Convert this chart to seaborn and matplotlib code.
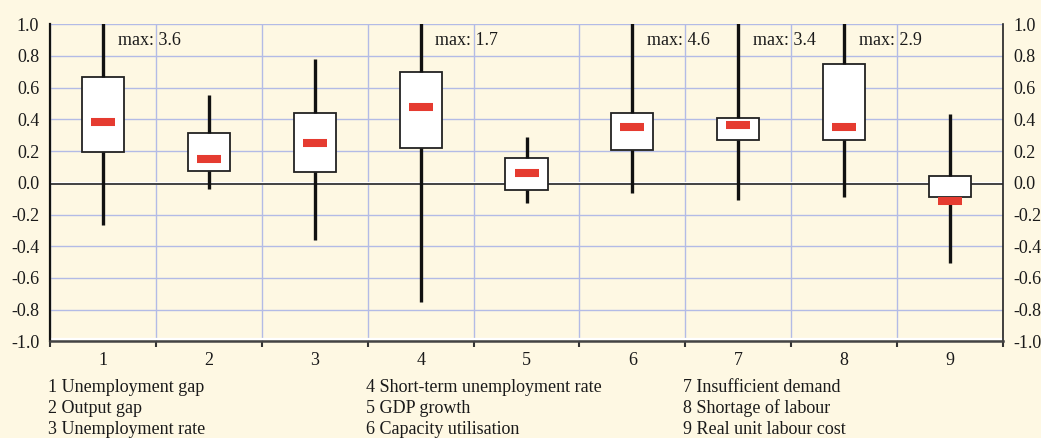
import numpy as np
import pandas as pd
import matplotlib
matplotlib.use("Agg")
import matplotlib.pyplot as plt
import matplotlib.transforms as mtransforms
from matplotlib.ticker import FixedLocator, FormatStrFormatter
import seaborn as sns

# ---- data ----
categories = ["1", "2", "3", "4", "5", "6", "7", "8", "9"]
whisker_low = [-0.266, -0.036, -0.360, -0.754, -0.129, -0.066, -0.111, -0.088, -0.508]
quartile_1 = [0.192, 0.073, 0.070, 0.218, -0.045, 0.205, 0.272, 0.272, -0.091]
median = [0.384, 0.152, 0.253, 0.480, 0.060, 0.352, 0.367, 0.354, -0.113]
quartile_3 = [0.669, 0.316, 0.441, 0.697, 0.155, 0.438, 0.411, 0.750, 0.045]
whisker_high = [3.6, 0.554, 0.782, 1.7, 0.287, 4.6, 3.4, 2.9, 0.434]
legend_labels = [
    "1 Unemployment gap", "2 Output gap", "3 Unemployment rate",
    "4 Short-term unemployment rate", "5 GDP growth", "6 Capacity utilisation",
    "7 Insufficient demand", "8 Shortage of labour", "9 Real unit labour cost",
]
y_ticks = np.round(np.linspace(-1.0, 1.0, 11), 1) + 0.0

# ---- style ----
BG = "#FEF8E3"
GRID = "#B3BBE6"
RED = "#E53B30"
sns.set_theme(style="white")
plt.rcParams["font.family"] = ["Liberation Serif", "DejaVu Serif"]
plt.rcParams["axes.unicode_minus"] = False
plt.rcParams["text.color"] = "#1a1a1a"

fig = plt.figure(figsize=(10.41, 4.38), dpi=100, facecolor=BG)
ax = fig.add_axes([50.3 / 1041, 1 - 341.3 / 438, (1002.7 - 50.3) / 1041, (341.3 - 24.3) / 438])
ax.set_facecolor(BG)

# long-format frame whose quartiles / extremes equal the read values
rows = []
for c, lo, q1, q3, hi in zip(categories, whisker_low, quartile_1, quartile_3, whisker_high):
    for v in (lo, q1, q1, q3, hi):
        rows.append({"cat": c, "val": v})
df = pd.DataFrame(rows)

sns.boxplot(
    data=df, x="cat", y="val", order=categories, ax=ax,
    color="white", saturation=1, linecolor="#222222", linewidth=1.3,
    width=0.4, whis=(0, 100), showcaps=False, showfliers=False,
    medianprops=dict(visible=False),
    whiskerprops=dict(color="#111111", linewidth=2.4, zorder=4),
    boxprops=dict(zorder=3),
)

# red median markers
sns.pointplot(
    x=categories, y=median, order=categories, ax=ax, linestyle="none",
    markers="_", color=RED, markersize=16.8, markeredgewidth=5.8,
    errorbar=None,
)
for ln in ax.lines[-1:]:
    ln.set_zorder(6)

# zero line (white highlight above, black line) drawn beneath boxes & whiskers
ax.axhline(0, color="white", lw=2.2, zorder=1.2)
off = mtransforms.offset_copy(ax.get_yaxis_transform(), fig=fig, x=0, y=-1.5, units="dots")
ax.plot([0, 1], [0, 0], transform=off, color="#222222", lw=1.2, zorder=1.3)
offb = mtransforms.offset_copy(ax.get_yaxis_transform(), fig=fig, x=0, y=2.0, units="dots")
ax.plot([0, 1], [-1, -1], transform=offb, color="white", lw=1.6, zorder=1.2, clip_on=False)

# max labels for whiskers beyond the axis
for i, hi in enumerate(whisker_high):
    if hi > 1.0:
        ax.text(i + 0.14, 0.9, f"max: {hi}", ha="left", va="center", fontsize=13, zorder=7)

# axes, ticks, grid
ax.set_xlim(-0.5, len(categories) - 0.5)
ax.set_ylim(-1.0, 1.0)
ax.set_xlabel("")
ax.set_ylabel("")
ax.yaxis.set_major_locator(FixedLocator(y_ticks))
ax.yaxis.set_major_formatter(FormatStrFormatter("%.1f"))
ax.xaxis.set_minor_locator(FixedLocator(np.arange(-0.5, len(categories), 1.0)))
ax.set_axisbelow(True)
ax.grid(False)
ax.yaxis.grid(True, which="major", color=GRID, lw=1.0)
ax.xaxis.grid(True, which="minor", color=GRID, lw=1.0)
ax.tick_params(axis="y", which="both", left=False, right=False, length=0,
               labelleft=True, labelright=True, labelsize=13, pad=8, colors="#1a1a1a")
ax.tick_params(axis="x", which="major", bottom=False, length=0, labelsize=13, pad=8,
               colors="#1a1a1a")
ax.tick_params(axis="x", which="minor", bottom=True, direction="out", length=4,
               width=1.5, color="#333333")

ax.spines["top"].set_visible(False)
ax.spines["left"].set_visible(True)
ax.spines["right"].set_visible(True)
ax.spines["bottom"].set_visible(True)
ax.spines["left"].set_color("#111111")
ax.spines["left"].set_linewidth(1.6)
ax.spines["right"].set_color("#222222")
ax.spines["right"].set_linewidth(1.2)
ax.spines["bottom"].set_color("#444444")
ax.spines["bottom"].set_linewidth(1.8)

# category legend text below
col_x = [48 / 1041, 365.7 / 1041, 683 / 1041]
row_y = [1 - 392 / 438, 1 - 413.3 / 438, 1 - 434.3 / 438]
for k, lab in enumerate(legend_labels):
    fig.text(col_x[k // 3], row_y[k % 3], lab, ha="left", va="baseline", fontsize=13)

fig.savefig("out.png", dpi=100, facecolor=BG)
